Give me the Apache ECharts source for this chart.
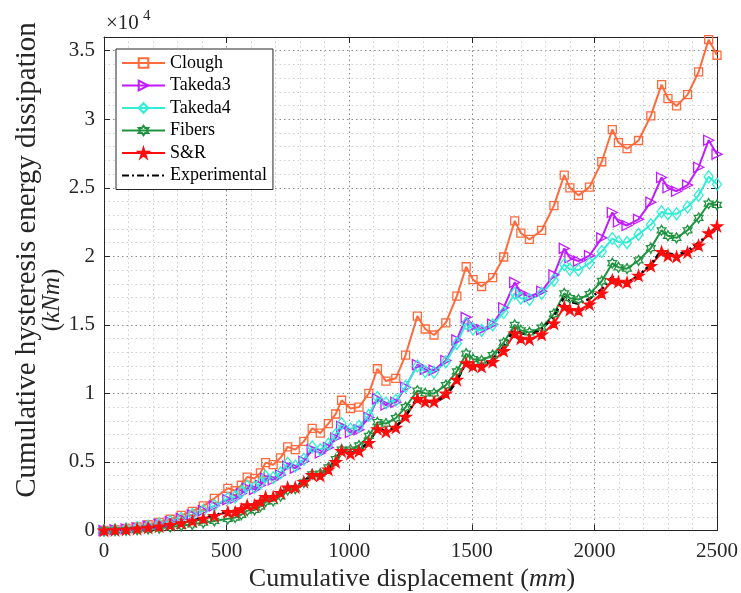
<!DOCTYPE html>
<html><head><meta charset="utf-8">
<script src="https://cdn.jsdelivr.net/npm/echarts@6/dist/echarts.min.js"></script>
<style>html,body{margin:0;padding:0;background:#fff}#c{width:741px;height:593px}</style>
</head><body><div id="c"></div>
<script>
// Cumulative displacement (mm) — shared sample positions
const displacement = [0,45,90,135,180,225,270,315,360,405,450,505,535,560,584,614,638,659,690,720,749,780,815,849,882,915,945,969,1005,1040,1080,1115,1150,1190,1230,1278,1310,1346,1394,1439,1477,1505,1540,1585,1630,1675,1700,1735,1785,1835,1877,1900,1935,1980,2030,2073,2098,2133,2180,2230,2274,2300,2335,2380,2425,2466,2500];
// Cumulative hysteresis energy (kNm)
const clough = [0,60,150,270,420,600,820,1100,1400,1800,2350,3080,2900,3300,3900,3800,4200,4950,4800,5300,6100,5900,6500,7450,7100,7800,8500,9500,8900,9000,10000,11800,10900,11100,12800,15640,14700,14260,15150,17100,19240,18300,17800,18450,19950,22590,21700,21230,21900,23700,25920,25000,24450,25050,26900,29250,28300,27850,28450,30250,32530,31500,30970,31800,33450,35810,34670];
const takeda3 = [0,50,110,200,320,470,650,880,1150,1450,1800,2250,2350,2700,3100,3000,3300,3800,3700,4050,4700,4550,5050,5900,5650,6050,6750,7600,7150,7350,8250,9600,9150,9350,10450,12100,11750,11700,12400,13900,15550,14900,14650,15050,16250,18100,17350,17050,17450,18650,20580,19900,19650,20050,21350,23200,22500,22250,22700,23950,25750,25000,24750,25200,26500,28470,27450];
const takeda4 = [0,55,120,210,330,480,660,890,1160,1460,1820,2350,2450,2800,3250,3150,3450,3950,3850,4200,4900,4700,5200,6100,5900,6300,7000,7800,7400,7600,8400,9700,9300,9500,10500,12000,11600,11550,12300,13650,15100,14700,14600,15000,15900,17300,16950,16850,17300,18250,19400,19050,19000,19500,20350,21300,21050,21000,21600,22300,23250,23100,23100,23600,24450,25800,25260];
const fibers = [0,10,30,60,110,170,250,340,450,570,700,850,950,1150,1450,1500,1750,2100,2150,2500,2950,3050,3500,4100,4150,4600,5200,5900,5900,6200,6900,7900,7800,8200,9000,10200,10000,10000,10600,11600,12900,12500,12400,12800,13700,15000,14600,14450,14800,15800,17300,16950,16850,17250,18200,19500,19200,19100,19700,20600,21900,21500,21350,21900,22800,23850,23750];
const snr = [0,30,70,130,210,300,410,540,690,870,1070,1350,1350,1550,1850,1850,2100,2450,2450,2750,3150,3150,3550,4050,4000,4450,5000,5800,5600,5800,6400,7400,7200,7500,8300,9600,9400,9400,10000,11000,12200,12000,11950,12300,13100,14380,14000,13950,14300,15100,16320,16100,16050,16500,17300,18270,18150,18100,18600,19300,20330,20050,19970,20300,20800,21700,22200];
const experimental = [0,40,90,160,240,330,440,570,720,900,1100,1400,1420,1620,1900,1900,2150,2500,2500,2800,3200,3200,3600,4100,4050,4500,5050,5900,5650,5850,6450,7450,7250,7550,8350,9700,9500,9300,9800,10900,12300,12100,12050,12500,13400,14750,14400,14250,14700,15600,17050,16700,16550,16900,17600,18500,18200,18050,18600,19400,20450,20200,20100,20400,21000,21600,22050];
const seriesNames = ['Clough','Takeda3','Takeda4','Fibers','S&R','Experimental'];
const xTickValues = [0,500,1000,1500,2000,2500];
const yTickLabels = ['0','0.5','1','1.5','2','2.5','3','3.5'];

const FONT = '"Liberation Serif","Times New Roman",serif';
const TXT = '#262626';
const sym = {
  tri: 'path://M0,0 L10,5 L0,10 Z',
  hex: 'path://M0,-10 L2.89,-5 L8.66,-5 L5.77,0 L8.66,5 L2.89,5 L0,10 L-2.89,5 L-8.66,5 L-5.77,0 L-8.66,-5 L-2.89,-5 Z',
  star: 'path://M0,-10 L2.245,-3.09 L9.51,-3.09 L3.633,1.18 L5.88,8.09 L0,3.82 L-5.88,8.09 L-3.633,1.18 L-9.51,-3.09 L-2.245,-3.09 Z'
};
function mk(name, ys, color, symbol, size, fill, extra) {
  return Object.assign({
    name, type: 'line', xAxisIndex: 0, yAxisIndex: 0,
    data: displacement.map((x, i) => [x, ys[i]]),
    symbol, symbolSize: size, symbolKeepAspect: true, showSymbol: true, showAllSymbol: true,
    lineStyle: { color, width: 2 },
    itemStyle: { color: fill, borderColor: color, borderWidth: 1.3 },
    emphasis: { disabled: true }, silent: true, animation: false
  }, extra || {});
}
const series = [
  mk(seriesNames[0], clough, '#FF6A3D', 'rect', 8, 'rgba(255,255,255,0)'),
  mk(seriesNames[1], takeda3, '#C21BFF', sym.tri, 10, 'rgba(255,255,255,0)'),
  mk(seriesNames[2], takeda4, '#2EEED6', 'diamond', [9, 12], 'rgba(255,255,255,0)', {symbolKeepAspect:false}),
  mk(seriesNames[3], fibers, '#1F9440', sym.hex, 10, 'rgba(255,255,255,0)'),
  mk(seriesNames[4], snr, '#FF0D0D', sym.star, 11, '#FF0D0D'),
  mk(seriesNames[5], experimental, '#000000', 'none', 0, '#000', {
    lineStyle: { color: '#000', width: 2.6, type: [7, 3, 2, 3] }
  })
];

const grid = { left: 104, right: 23, top: 37, bottom: 62.5 };
const axCommon = {
  axisLine: { show: true, onZero: false, lineStyle: { color: TXT, width: 1 } },
  axisTick: { show: true, inside: true, length: 6, lineStyle: { color: TXT } }
};
const chart = echarts.init(document.getElementById('c'), null, { renderer: 'canvas' });
chart.setOption({
  animation: false,
  backgroundColor: '#fff',
  grid,
  xAxis: [
    Object.assign({
      type: 'value', min: 0, max: 2500, interval: 500, position: 'bottom',
      axisLabel: { show: true, margin: 10, fontSize: 21, fontFamily: FONT, color: TXT,
        formatter: v => xTickValues.includes(v) ? String(v) : '' },
      splitLine: { show: true, lineStyle: { color: '#8a8a8a', width: 1, type: [1.5, 3] } },
      minorSplitLine: { show: true, lineStyle: { color: '#cfcfcf', width: 1, type: [1.5, 3] } }
    }, axCommon, { minorTick: { show: false, splitNumber: 5 } }),
    Object.assign({
      type: 'value', min: 0, max: 2500, interval: 500, position: 'top',
      axisLabel: { show: false }, splitLine: { show: false }
    }, axCommon)
  ],
  yAxis: [
    Object.assign({
      type: 'value', min: 0, max: 36000, interval: 5000, position: 'left',
      axisLabel: { show: true, margin: 9, fontSize: 21, fontFamily: FONT, color: TXT,
        formatter: v => (v % 5000 === 0 && v / 5000 < yTickLabels.length) ? yTickLabels[v / 5000] : '' },
      splitLine: { show: true, lineStyle: { color: '#8a8a8a', width: 1, type: [1.5, 3] } },
      minorSplitLine: { show: true, lineStyle: { color: '#cfcfcf', width: 1, type: [1.5, 3] } }
    }, axCommon, { minorTick: { show: false, splitNumber: 5 } }),
    Object.assign({
      type: 'value', min: 0, max: 36000, interval: 5000, position: 'right',
      axisLabel: { show: false }, splitLine: { show: false }
    }, axCommon)
  ],
  legend: {
    orient: 'vertical', left: 116, top: 49,
    data: seriesNames.map(n => n === 'Experimental' ? { name: n, itemStyle: { opacity: 0 } } : n),
    itemWidth: 43, itemHeight: 12, itemGap: 4.5,
    padding: [5, 6, 5, 5],
    backgroundColor: '#fff', borderColor: '#262626', borderWidth: 1,
    textStyle: { fontSize: 18, fontFamily: FONT, color: '#000' },
    selectedMode: false
  },
  graphic: [
    { type: 'text', x: 106, y: 34, style: { text: '×10', font: '21px ' + FONT, fill: TXT, align: 'left', verticalAlign: 'bottom' } },
    { type: 'text', x: 143, y: 24, style: { text: '4', font: '15px ' + FONT, fill: TXT, align: 'left', verticalAlign: 'bottom' } },
    { type: 'text', x: 27, y: 260, rotation: Math.PI / 2,
      style: { text: 'Cumulative hysteresis energy dissipation', font: '29px ' + FONT, fill: TXT, align: 'center', verticalAlign: 'middle' } },
    { type: 'text', x: 52, y: 300, rotation: Math.PI / 2,
      style: { text: '{n|(}{i|kNm}{n|)}', fill: TXT, align: 'center', verticalAlign: 'middle',
        rich: { n: { fontSize: 25, fontFamily: FONT, color: TXT }, i: { fontSize: 25, fontFamily: FONT, fontStyle: 'italic', color: TXT } } } },
    { type: 'text', x: 412, y: 579,
      style: { text: '{n|Cumulative displacement (}{i|mm}{n|)}', fill: TXT, align: 'center', verticalAlign: 'middle',
        rich: { n: { fontSize: 26, fontFamily: FONT, color: TXT }, i: { fontSize: 26, fontFamily: FONT, fontStyle: 'italic', color: TXT } } } }
  ],
  series
});
</script>
</body></html>
